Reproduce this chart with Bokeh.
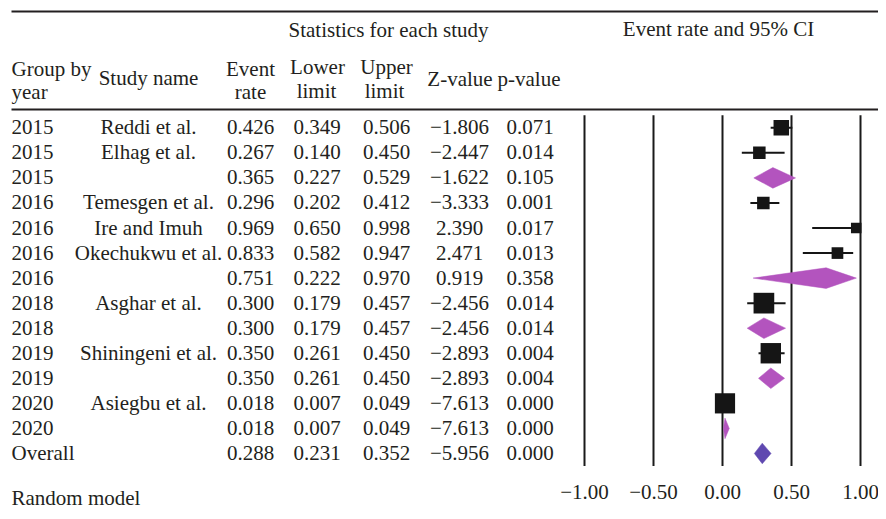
from bokeh.plotting import figure
from bokeh.models import Range1d, ColumnDataSource
from bokeh.core.properties import value
from bokeh.embed import file_html
from bokeh.resources import INLINE

# ---------------- data ----------------
years = ["2015", "2015", "2015", "2016", "2016", "2016", "2016",
         "2018", "2018", "2019", "2019", "2020", "2020", "Overall"]
studies = ["Reddi et al.", "Elhag et al.", "", "Temesgen et al.", "Ire and Imuh",
           "Okechukwu et al.", "", "Asghar et al.", "", "Shiningeni et al.", "",
           "Asiegbu et al.", "", ""]
event_rate = [0.426, 0.267, 0.365, 0.296, 0.969, 0.833, 0.751, 0.300, 0.300,
              0.350, 0.350, 0.018, 0.018, 0.288]
lower_limit = [0.349, 0.140, 0.227, 0.202, 0.650, 0.582, 0.222, 0.179, 0.179,
               0.261, 0.261, 0.007, 0.007, 0.231]
upper_limit = [0.506, 0.450, 0.529, 0.412, 0.998, 0.947, 0.970, 0.457, 0.457,
               0.450, 0.450, 0.049, 0.049, 0.352]
z_value = [-1.806, -2.447, -1.622, -3.333, 2.390, 2.471, 0.919, -2.456, -2.456,
           -2.893, -2.893, -7.613, -7.613, -5.956]
p_value = [0.071, 0.014, 0.105, 0.001, 0.017, 0.013, 0.358, 0.014, 0.014,
           0.004, 0.004, 0.000, 0.000, 0.000]
row_kind = ["study", "study", "subgroup", "study", "study", "study", "subgroup",
            "study", "subgroup", "study", "subgroup", "study", "subgroup", "overall"]
# relative study weights (shown as square size)
study_weight = [15.5, 12.5, None, 12.5, 10.5, 11.7, None, 20.7, None, 20.4, None, 20.2, None, None]
tick_values = [-1.0, -0.5, 0.0, 0.5, 1.0]
tick_labels = ["\u22121.00", "\u22120.50", "0.00", "0.50", "1.00"]

# ---------------- layout helpers (figure pixels) ----------------
W, H = 878, 511
X_ZERO = 722.0           # x pixel of value 0
X_SCALE = 138.0          # px per unit
Y_ROW0 = 127.3           # y pixel of first row
ROW_H = 25.05            # px per row


def px2x(px):
    return (px - X_ZERO) / X_SCALE


def py2y(py):
    return (py - Y_ROW0) / ROW_H


FONT = value("Liberation Serif")
FS = "21px"
TXT = "#231f20"

p = figure(width=W, height=H, output_backend="svg", toolbar_location=None,
           x_range=Range1d(px2x(0), px2x(W)),
           y_range=Range1d(py2y(H), py2y(0)),
           x_axis_location=None, y_axis_location=None, min_border=0)
p.grid.visible = False
p.outline_line_color = None
p.background_fill_color = "white"
p.border_fill_color = "white"

rows = list(range(len(years)))

# horizontal rules
p.segment(x0=[px2x(11)] * 2, x1=[px2x(W)] * 2,
          y0=[py2y(11), py2y(109)], y1=[py2y(11), py2y(109)],
          line_color="#231f20", line_width=2)

# vertical reference lines
p.segment(x0=tick_values, x1=tick_values,
          y0=[rows[0] - 0.5] * len(tick_values), y1=[rows[-1] + 0.5] * len(tick_values),
          line_color="#1a1a1a", line_width=2)

# tick labels
p.text(x=tick_values, y=[py2y(491)] * len(tick_values), text=tick_labels,
       text_font=FONT, text_font_size=FS, text_align="center",
       text_baseline="alphabetic", text_color=TXT)

# study rows: CI lines and squares
st_idx = [i for i, k in enumerate(row_kind) if k == "study"]
src_st = ColumnDataSource(dict(
    y=[rows[i] for i in st_idx],
    est=[event_rate[i] for i in st_idx],
    lo=[lower_limit[i] for i in st_idx],
    hi=[upper_limit[i] for i in st_idx],
    size=[study_weight[i] for i in st_idx],
))
p.segment(x0="lo", x1="hi", y0="y", y1="y", source=src_st,
          line_color="#151515", line_width=2)
p.scatter(x="est", y="y", size="size", marker="square", source=src_st,
          fill_color="#151515", line_color="#151515", line_width=0)

# diamonds
half = 10.3 / ROW_H
for kind, col in (("subgroup", "#b354be"), ("overall", "#5f48b0")):
    idx = [i for i, k in enumerate(row_kind) if k == kind]
    xs = [[lower_limit[i], event_rate[i], upper_limit[i], event_rate[i]] for i in idx]
    ys = [[rows[i], rows[i] - half, rows[i], rows[i] + half] for i in idx]
    p.patches(xs=xs, ys=ys, fill_color=col, line_color=col, line_width=0.5)


def fmt(v):
    return f"{v:.3f}".replace("-", "\u2212")


# table text
base_off = -0.5
p.text(x=[px2x(11)] * len(rows), y=rows, text=years, text_font=FONT, text_font_size=FS,
       text_align="left", text_baseline="alphabetic", y_offset=base_off, text_color=TXT)
p.text(x=[px2x(148)] * len(rows), y=rows, text=studies, text_font=FONT, text_font_size=FS,
       text_align="center", text_baseline="alphabetic", y_offset=base_off, text_color=TXT)
for cx, vals in ((250, event_rate), (316.5, lower_limit), (386, upper_limit),
                 (459, z_value), (529.5, p_value)):
    p.text(x=[px2x(cx)] * len(rows), y=rows, text=[fmt(v) for v in vals],
           text_font=FONT, text_font_size=FS, text_align="center",
           text_baseline="alphabetic", y_offset=base_off, text_color=TXT)

# headers
hdr = [
    ("Statistics for each study", 388, 29, "center"),
    ("Event rate and 95% CI", 718, 28.5, "center"),
    ("Group by", 11, 68, "left"),
    ("year", 11, 91, "left"),
    ("Study name", 148, 77, "center"),
    ("Event", 250, 68, "center"),
    ("rate", 250, 91, "center"),
    ("Lower", 317, 66.5, "center"),
    ("limit", 316, 90.5, "center"),
    ("Upper", 386, 66.5, "center"),
    ("limit", 384, 90.5, "center"),
    ("Z-value", 459.5, 78, "center"),
    ("p-value", 528.5, 78, "center"),
    ("Random model", 11, 497, "left"),
]
for t, cx, by, al in hdr:
    p.text(x=[px2x(cx)], y=[py2y(by)], text=[t], text_font=FONT, text_font_size=FS,
           text_align=al, text_baseline="alphabetic", text_color=TXT)

open("out.html", "w").write(file_html(p, INLINE))
